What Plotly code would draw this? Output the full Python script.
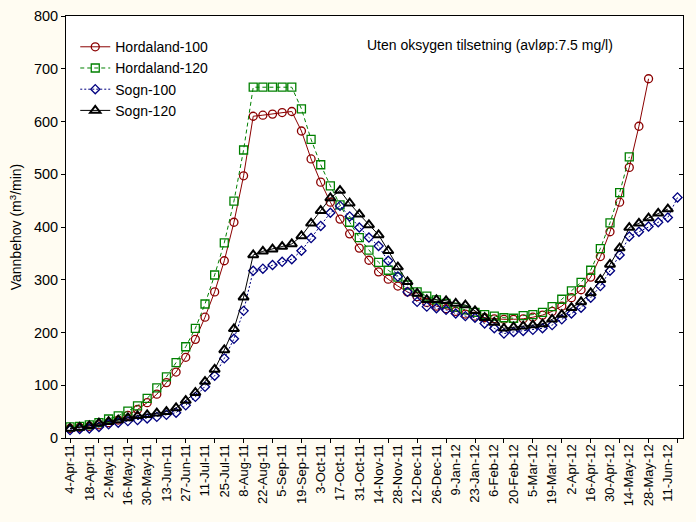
import pandas as pd
import plotly.graph_objects as go

dates = pd.date_range("2011-04-04", periods=64, freq="7D")

hordaland_100 = [18, 20, 22, 25, 29, 34, 43, 54, 67, 83, 105, 125, 153, 187, 229, 277, 336, 409, 497,
                 610, 612, 614, 617, 619, 582, 529, 485, 447, 415, 387, 360, 337, 315, 301, 288, 277,
                 268, 257, 250, 245, 240, 235, 231, 228, 226, 225, 225, 226, 229, 233, 240, 250, 266,
                 281, 305, 344, 391, 447, 513, 591, 681]
hordaland_120 = [21, 22, 25, 29, 36, 42, 51, 61, 75, 95, 116, 143, 173, 208, 254, 309, 370, 449, 546,
                 665, 665, 665, 665, 665, 624, 566, 518, 478, 442, 409, 380, 356, 333, 318, 305, 290,
                 277, 269, 262, 255, 248, 243, 238, 234, 231, 228, 227, 232, 234, 238, 249, 263, 279,
                 295, 318, 359, 408, 465, 533]
sogn_100 = [15, 17, 18, 21, 26, 29, 32, 34, 37, 40, 44, 48, 62, 78, 97, 118, 151, 188, 241,
            317, 321, 328, 334, 339, 355, 379, 402, 427, 440, 420, 399, 380, 364, 336, 306, 277,
            258, 249, 246, 243, 236, 231, 228, 217, 208, 198, 201, 203, 205, 208, 214, 225, 236,
            247, 266, 288, 317, 347, 382, 391, 401, 409, 418, 456]
sogn_120 = [18, 20, 23, 28, 31, 34, 38, 42, 44, 47, 50, 57, 71, 86, 107, 130, 167, 207, 267,
            347, 354, 358, 363, 368, 383, 407, 431, 455, 469, 445, 424, 404, 385, 355, 324, 296,
            274, 262, 262, 260, 255, 252, 241, 228, 219, 208, 210, 212, 214, 216, 225, 234, 247,
            258, 275, 300, 329, 360, 399, 407, 417, 426, 434]

tick_dates = dates[::2][:32]
tick_minor = dates[::3]

FONT = "Liberation Sans, Arial, sans-serif"
PAPER = "#fffcf2"

series = [
    ("Hordaland-100", hordaland_100, "#8b0000", "circle-open", "solid", 8),
    ("Hordaland-120", hordaland_120, "#008000", "square-open", "4px,3px", 8),
    ("Sogn-100", sogn_100, "#000080", "diamond-open", "2px,2px", 7),
    ("Sogn-120", sogn_120, "#000000", "triangle-up-open", "solid", 9),
]

fig = go.Figure()
for name, vals, col, sym, dash, size in series:
    fig.add_trace(go.Scatter(
        x=dates[:len(vals)], y=vals, name=name, mode="lines+markers",
        line=dict(color=col, width=1, dash=dash),
        marker=dict(symbol=sym, size=size, color=col,
                    line=dict(color=col, width=1.3 if sym != "triangle-up-open" else 2)),
    ))

# invisible trace for mirrored ticks
fig.add_trace(go.Scatter(x=[dates[0]], y=[0], xaxis="x2", yaxis="y2", showlegend=False,
                         mode="markers", marker=dict(opacity=0), hoverinfo="skip"))

xr = ["2011-04-01 02:00", "2012-06-22"]
fig.update_layout(
    width=696, height=522,
    margin=dict(l=66, r=13, t=16, b=84),
    paper_bgcolor=PAPER, plot_bgcolor="#ffffff",
    font=dict(family=FONT, size=14, color="#000000"),
    showlegend=True,
    legend=dict(x=0.015, y=0.964, xanchor="left", yanchor="top", bgcolor="rgba(0,0,0,0)",
                font=dict(size=14), tracegroupgap=0, itemwidth=30),
    xaxis=dict(type="date", range=xr, tickvals=list(tick_dates), tickformat="%-d-%b-%y",
               tickangle=-90, ticks="", showgrid=False, zeroline=False, automargin=False,
               showline=True, linecolor="#000000", linewidth=1, mirror=True,
               tickfont=dict(size=13)),
    yaxis=dict(range=[0, 800], dtick=100, ticks="outside", ticklen=4, tickcolor="#000",
               showgrid=False, zeroline=False, showline=True, linecolor="#000000", linewidth=1,
               mirror=True, automargin=False,
               title=dict(text="Vannbehov (m<sup>3</sup>/min)", standoff=8, font=dict(size=14)),
               tickfont=dict(size=14.5)),
    xaxis2=dict(type="date", range=xr, overlaying="x", side="bottom", tickvals=list(tick_minor),
                showticklabels=False, ticks="outside", ticklen=4, tickcolor="#000", automargin=False,
                showgrid=False, zeroline=False, showline=False),
    yaxis2=dict(range=[0, 800], dtick=100, overlaying="y", side="right", anchor="x",
                showticklabels=False, ticks="inside", ticklen=4, tickcolor="#000", automargin=False,
                showgrid=False, zeroline=False, showline=False),
    annotations=[dict(text="Uten oksygen tilsetning (avløp:7.5 mg/l)", xref="paper", yref="paper",
                      x=(365 - 66) / 617, y=(438 - 45) / 422, xanchor="left", yanchor="middle",
                      showarrow=False, font=dict(size=14))],
)

fig.write_html("out.html",
               config={"displayModeBar": False},
               post_script="document.body.style.margin='0px';"
                           "document.body.style.background='%s';"
                           "document.body.style.overflow='hidden';" % PAPER)
